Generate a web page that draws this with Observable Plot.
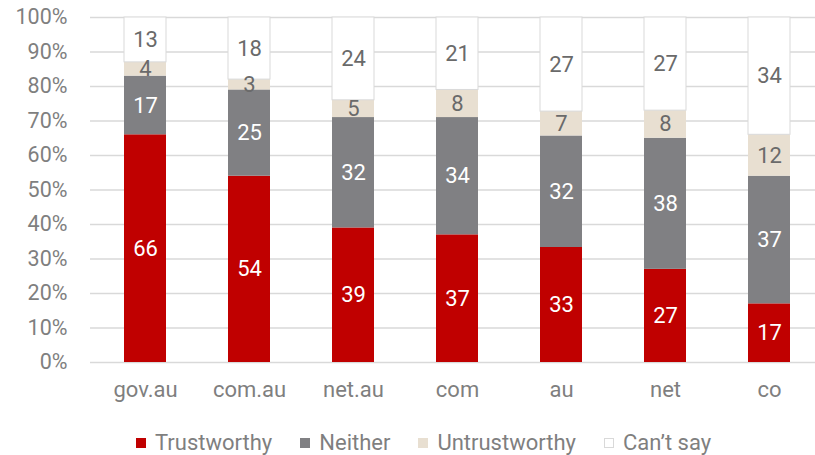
<!DOCTYPE html>
<html>
<head>
<meta charset="utf-8">
<script src="https://cdn.jsdelivr.net/npm/d3@7"></script>
<script src="https://cdn.jsdelivr.net/npm/@observablehq/plot@0.6"></script>
<style>
  body { margin: 0; background: #fff; font-family: Roboto, "Liberation Sans", sans-serif; }
  #wrap { position: relative; width: 815px; height: 455px; overflow: hidden; }
  #legend { position: absolute; left: 136px; top: 429px; display: flex; align-items: center; font-size: 22px; color: #7f7f7f; line-height: 28px; }
  .item { display: flex; align-items: center; margin-right: 28px; }
  .sw { width: 10px; height: 10px; margin-right: 9px; box-sizing: border-box; }
</style>
</head>
<body>
<div id="wrap"><div id="chart"></div><div id="legend"></div></div>
<script>
const categories = ["gov.au", "com.au", "net.au", "com", "au", "net", "co"];
const seriesNames = ["Trustworthy", "Neither", "Untrustworthy", "Can\u2019t say"];
const trustworthy   = [66, 54, 39, 37, 33, 27, 17];
const neither       = [17, 25, 32, 34, 32, 38, 37];
const untrustworthy = [4, 3, 5, 8, 7, 8, 12];
const cantSay       = [13, 18, 24, 21, 27, 27, 34];
const yTicks = [0, 10, 20, 30, 40, 50, 60, 70, 80, 90, 100];

const fills = ["#C00000", "#808083", "#E8DFD1", "#FFFFFF"];
const strokes = ["none", "none", "none", "#D9D9D9"];
const textFills = ["#FFFFFF", "#FFFFFF", "#6A6A6A", "#6A6A6A"];

const seriesValues = [trustworthy, neither, untrustworthy, cantSay];
const data = [];
categories.forEach((c, i) => {
  seriesNames.forEach((s, j) => {
    data.push({cat: c, series: s, value: seriesValues[j][i]});
  });
});

const chart = Plot.plot({
  width: 815,
  height: 412,
  marginLeft: 90,
  marginRight: 0,
  marginTop: 17,
  marginBottom: 50,
  style: {fontFamily: "Roboto, 'Liberation Sans', sans-serif", fontSize: "22px", color: "#7f7f7f", background: "#fff"},
  x: {domain: categories, range: [110.5, 803.5], paddingInner: 0.6, paddingOuter: 0.1, align: 0.5, label: null, tickSize: 0, tickPadding: 19},
  y: {domain: [0, 1], ticks: yTicks.map(d => d / 100), tickFormat: d => Math.round(d * 100) + "%", label: null, tickSize: 0, tickPadding: 23},
  color: {domain: seriesNames, range: fills},
  marks: [
    Plot.ruleY(yTicks.map(d => d / 100), {stroke: "#D9D9D9", strokeWidth: 1.5}),
    Plot.axisY({ticks: yTicks.map(d => d / 100), tickFormat: d => Math.round(d * 100) + "%", tickSize: 0, tickPadding: 23, fontSize: 21.5, label: null}),
    Plot.axisX({tickSize: 0, tickPadding: 19, fontSize: 22, label: null}),
    Plot.barY(data, Plot.stackY({
      x: "cat", y: "value", z: "series", offset: "normalize",
      fill: "series",
      stroke: d => strokes[seriesNames.indexOf(d.series)],
      strokeWidth: 1
    })),
    Plot.text(data, Plot.stackY({
      x: "cat", y: "value", z: "series", offset: "normalize",
      text: d => String(d.value),
      fill: d => textFills[seriesNames.indexOf(d.series)],
      fontSize: 22
    }))
  ]
});
document.getElementById("chart").appendChild(chart);

const legend = document.getElementById("legend");
seriesNames.forEach((s, j) => {
  const item = document.createElement("div");
  item.className = "item";
  const sw = document.createElement("div");
  sw.className = "sw";
  sw.style.background = fills[j];
  if (strokes[j] !== "none") sw.style.border = "1px solid " + strokes[j];
  const t = document.createElement("span");
  t.textContent = s;
  item.appendChild(sw);
  item.appendChild(t);
  legend.appendChild(item);
});
</script>
</body>
</html>
